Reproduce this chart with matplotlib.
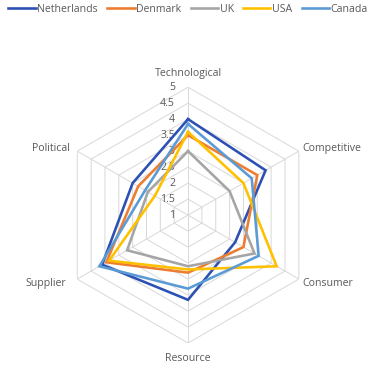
import matplotlib
matplotlib.use('Agg')
import matplotlib.pyplot as plt
import numpy as np

categories = ['Technological', 'Competitive', 'Consumer', 'Resource', 'Supplier', 'Political']
countries = ['Netherlands', 'Denmark', 'UK', 'USA', 'Canada']
netherlands = [4.0, 3.8, 2.7, 3.65, 4.1, 3.0]
denmark = [3.5, 3.5, 3.0, 2.8, 3.95, 2.8]
uk = [3.0, 2.5, 3.4, 2.6, 3.2, 2.45]
usa = [3.6, 3.0, 4.2, 2.7, 3.85, 2.2]
canada = [3.85, 3.3, 3.55, 3.3, 4.2, 2.55]
tick_values = [1, 1.5, 2, 2.5, 3, 3.5, 4, 4.5, 5]
tick_labels = ['1', '1.5', '2', '2.5', '3', '3.5', '4', '4.5', '5']

colors = ['#2C50B4', '#ED7D31', '#A5A5A5', '#FFC000', '#5B9BD5']
text_color = '#595959'
grid_color = '#D9D9D9'

plt.rcParams['font.family'] = ['Open Sans', 'DejaVu Sans']

fig = plt.figure(figsize=(376 / 72, 366 / 72), dpi=72)
ax = fig.add_axes([0.1596, 0.0628, 0.681, 0.699], projection='polar')
ax.set_theta_zero_location('N')
ax.set_theta_direction(-1)
ax.set_ylim(1, 5)
ax.axis('off')

angles = np.linspace(0, 2 * np.pi, len(categories), endpoint=False)
closed = np.r_[angles, angles[0]]

# hexagonal gridlines and spokes
for v in tick_values[1:]:
    ax.plot(closed, [v] * len(closed), color=grid_color, lw=1, zorder=1)
for a in angles:
    ax.plot([a, a], [1, 5], color=grid_color, lw=1, zorder=1)

series = [netherlands, denmark, uk, usa, canada]
for name, vals, c in zip(countries, series, colors):
    ax.plot(closed, vals + vals[:1], color=c, lw=2.6, label=name, zorder=3,
            solid_joinstyle='miter')

for v, lbl in zip(tick_values, tick_labels):
    ax.annotate(lbl, xy=(0, v), xytext=(-13, 0), textcoords='offset points',
                ha='right', va='center', fontsize=10.5, color=text_color, zorder=2)

offsets = [(0, 14, 'center'), (4, 3, 'left'), (4, -4, 'left'),
           (0, -15, 'center'), (-11, -4, 'right'), (-7, 3, 'right')]
for a, cat, (dx, dy, ha) in zip(angles, categories, offsets):
    ax.annotate(cat, xy=(a, 5), xytext=(dx, dy), textcoords='offset points',
                ha=ha, va='center', fontsize=10.5, color=text_color)

fig.legend(loc='upper center', bbox_to_anchor=(0.5, 1.015), ncol=5, frameon=False,
           fontsize=10.5, handlelength=2.6, handletextpad=0.15, columnspacing=0.9,
           labelcolor=text_color)

fig.savefig('out.png', dpi=72)
